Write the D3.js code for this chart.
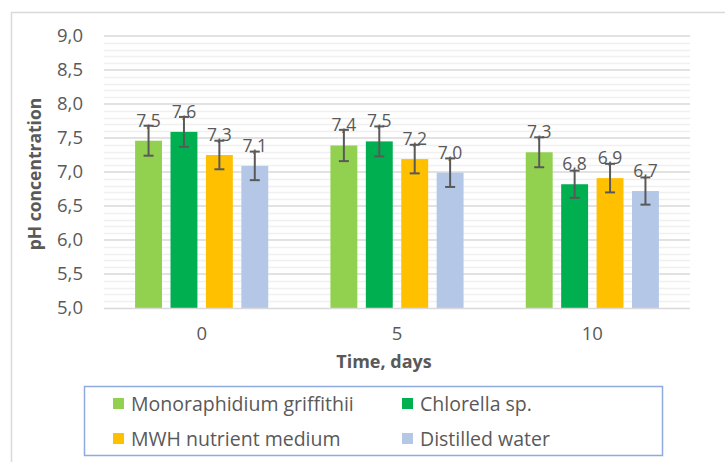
<!DOCTYPE html>
<html>
<head>
<meta charset="utf-8">
<script src="https://cdn.jsdelivr.net/npm/d3@7"></script>
<style>
  body { margin: 0; background: #fff; }
  text { font-family: "Open Sans", sans-serif; fill: #595959; }
</style>
</head>
<body>
<script>
// Data
const days = ["0", "5", "10"];
const seriesNames = ["Monoraphidium griffithii", "Chlorella sp.", "MWH nutrient medium", "Distilled water"];
const seriesColors = ["#92d050", "#00b050", "#ffc000", "#b4c7e7"];
const phValues = [
  [7.46, 7.39, 7.29],  // Monoraphidium griffithii
  [7.59, 7.45, 6.82],  // Chlorella sp.
  [7.25, 7.19, 6.91],  // MWH nutrient medium
  [7.09, 6.99, 6.72],  // Distilled water
];
const phErrors = [
  [0.22, 0.23, 0.22],
  [0.22, 0.22, 0.20],
  [0.21, 0.21, 0.21],
  [0.21, 0.21, 0.20],
];
const yTicks = [5.0, 5.5, 6.0, 6.5, 7.0, 7.5, 8.0, 8.5, 9.0];

const margin = { top: 36, left: 104, right: 35, bottom: 154 };
const W = 725, H = 462;
const width = W - margin.left - margin.right;
const height = H - margin.top - margin.bottom;

const svg = d3.select("body").append("svg")
  .attr("width", W)
  .attr("height", H);

// chart area border (runs off the picture on right/bottom)
svg.append("rect")
  .attr("x", 11.5).attr("y", 12.5)
  .attr("width", 800).attr("height", 600)
  .attr("fill", "none")
  .attr("stroke", "#d9d9d9")
  .attr("stroke-width", 1.5);

const g = svg.append("g").attr("transform", `translate(${margin.left},${margin.top})`);

const y = d3.scaleLinear().domain([5, 9]).range([height, 0]);
const x0 = d3.scaleBand().domain(days).range([0, width]).padding(0);
const x1 = d3.scaleBand().domain(d3.range(seriesNames.length))
  .range([0, x0.bandwidth()])
  .paddingInner(0.24).paddingOuter(0.878);

// minor gridlines
const minor = d3.range(50, 91).map(d => d / 10).filter(d => Math.round(d * 10) % 5 !== 0);
g.append("g").selectAll("line").data(minor).join("line")
  .attr("x1", 0).attr("x2", width)
  .attr("y1", d => Math.round(y(d)) + 0.5).attr("y2", d => Math.round(y(d)) + 0.5)
  .attr("stroke", "#f0f0f0").attr("stroke-width", 1.5);

// major gridlines
g.append("g").selectAll("line").data(yTicks.slice(1)).join("line")
  .attr("x1", 0).attr("x2", width)
  .attr("y1", d => y(d)).attr("y2", d => y(d))
  .attr("stroke", "#d9d9d9").attr("stroke-width", 1.5);

// y axis labels
const yaxis = d3.axisLeft(y).tickValues(yTicks).tickSize(0).tickPadding(21)
  .tickFormat(d => d3.format(".1f")(d).replace(".", ","));
const gy = g.append("g").call(yaxis);
gy.select(".domain").remove();
gy.selectAll("text").style("font-size", "18.5px").attr("fill", "#595959")
  .style("font-family", "'Open Sans', sans-serif");

// x axis
const xaxis = d3.axisBottom(x0).tickSize(0).tickPadding(19);
const gx = g.append("g").attr("transform", `translate(0,${height})`).call(xaxis);
gx.select(".domain").remove();
gx.selectAll("text").style("font-size", "18.5px").attr("fill", "#595959")
  .style("font-family", "'Open Sans', sans-serif");

// bars
const groups = g.append("g").selectAll("g").data(days).join("g")
  .attr("transform", d => `translate(${x0(d)},0)`);

const cells = groups.selectAll("g").data((d, i) => seriesNames.map((s, k) => ({ k, v: phValues[k][i], e: phErrors[k][i] })))
  .join("g");

cells.append("rect")
  .attr("x", d => x1(d.k))
  .attr("width", x1.bandwidth())
  .attr("y", d => y(d.v))
  .attr("height", d => height - y(d.v))
  .attr("fill", d => seriesColors[d.k]);

// x axis line (drawn over bar bottoms)
g.append("line")
  .attr("x1", 0).attr("x2", width)
  .attr("y1", height + 0.5).attr("y2", height + 0.5)
  .attr("stroke", "#d9d9d9").attr("stroke-width", 1.5);

// data labels
cells.append("text")
  .attr("x", d => x1(d.k) + x1.bandwidth() / 2)
  .attr("y", d => y(d.v) - 14)
  .attr("text-anchor", "middle")
  .style("font-size", "17.5px")
  .text(d => d3.format(".1f")(d.v).replace(".", ","));

// error bars
const cap = 5;
cells.each(function(d) {
  const c = d3.select(this);
  const cx = x1(d.k) + x1.bandwidth() / 2;
  const top = y(d.v + d.e), bot = y(d.v - d.e);
  c.append("line").attr("x1", cx).attr("x2", cx).attr("y1", top).attr("y2", bot);
  c.append("line").attr("x1", cx - cap).attr("x2", cx + cap).attr("y1", top).attr("y2", top);
  c.append("line").attr("x1", cx - cap).attr("x2", cx + cap).attr("y1", bot).attr("y2", bot);
  c.selectAll("line").attr("stroke", "#595959").attr("stroke-width", 2);
});

// axis titles
svg.append("text")
  .attr("transform", "translate(41,174) rotate(-90)")
  .attr("text-anchor", "middle")
  .style("font-size", "17.5px").style("font-weight", "bold")
  .text("pH concentration");

svg.append("text")
  .attr("x", 384).attr("y", 368)
  .attr("text-anchor", "middle")
  .style("font-size", "18px").style("font-weight", "bold")
  .text("Time, days");

// legend
const legend = svg.append("g");
legend.append("rect")
  .attr("x", 84.5).attr("y", 386.5)
  .attr("width", 578).attr("height", 69)
  .attr("fill", "#fff")
  .attr("stroke", "#8faadc").attr("stroke-width", 1.5);

const legendPos = [[113, 404], [402, 404], [113, 439], [402, 439]];
const items = legend.selectAll("g.item").data(seriesNames).join("g")
  .attr("class", "item")
  .attr("transform", (d, i) => `translate(${legendPos[i][0]},${legendPos[i][1]})`);
items.append("rect")
  .attr("x", 0).attr("y", -6).attr("width", 11).attr("height", 11)
  .attr("fill", (d, i) => seriesColors[i]);
items.append("text")
  .attr("x", 18).attr("y", 7)
  .style("font-size", "19.5px")
  .text(d => d);
</script>
</body>
</html>
